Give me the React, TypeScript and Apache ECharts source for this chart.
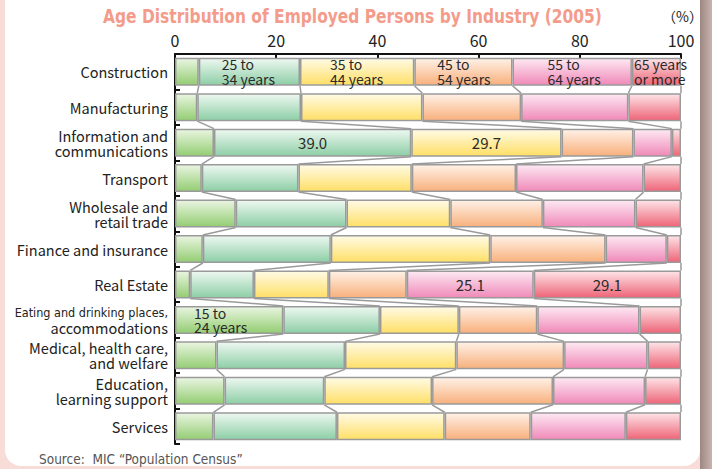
import React, { useEffect, useRef } from "react";
import * as echarts from "echarts";

const categories = [
  "Construction",
  "Manufacturing",
  "Information and\ncommunications",
  "Transport",
  "Wholesale and\nretail trade",
  "Finance and insurance",
  "Real Estate",
  "Eating and drinking places,\naccommodations",
  "Medical, health care,\nand welfare",
  "Education,\nlearning support",
  "Services",
];

const ageGroups = [
  "15 to\n24 years",
  "25 to\n34 years",
  "35 to\n44 years",
  "45 to\n54 years",
  "55 to\n64 years",
  "65 years\nor more",
];

const age15to24 = [4.7, 4.4, 7.7, 5.3, 12.0, 5.5, 3.0, 21.4, 8.2, 9.8, 7.6];
const age25to34 = [20.0, 20.5, 39.0, 19.1, 21.9, 25.3, 12.6, 19.1, 25.4, 19.7, 24.4];
const age35to44 = [22.6, 24.0, 29.7, 22.4, 20.5, 31.5, 14.8, 15.6, 22.0, 21.3, 21.3];
const age45to54 = [19.4, 19.5, 14.2, 20.6, 18.3, 22.8, 15.4, 15.5, 21.3, 23.9, 17.0];
const age55to64 = [23.6, 21.2, 7.6, 25.2, 18.3, 12.1, 25.1, 20.2, 16.5, 18.2, 18.8];
const age65plus = [9.7, 10.4, 1.8, 7.4, 9.0, 2.8, 29.1, 8.2, 6.6, 7.1, 10.9];

const seriesValues = [age15to24, age25to34, age35to44, age45to54, age55to64, age65plus];

// row in which each age group's name is written inside its segment
const ageLabelRow = [7, 0, 0, 0, 0, 0];
// [row, series] cells that show their value
const valueLabelCells = [
  [2, 1],
  [2, 2],
  [6, 4],
  [6, 5],
];

const xTicks = [0, 20, 40, 60, 80, 100];

// styles
const topColors = ["#eaf5e1", "#eef8f1", "#fffbe6", "#fff1e7", "#fde9f3", "#fde4e7"];
const bottomColors = ["#93cd72", "#8dcea6", "#ffdf66", "#f8b07c", "#f089b8", "#ee6477"];
const ageLabelDistance = [19, 23, 30, 23, 35, 2];
const BAR_FRACTION = 0.79;
const LABEL_FONT = "'Noto Sans CJK JP', 'Noto Sans', sans-serif";
const NARROW_FONT = "'Liberation Sans Narrow', 'DejaVu Sans Condensed', sans-serif";

export default function App() {
  const ref = useRef<HTMLDivElement>(null);

  useEffect(() => {
    if (!ref.current) return;
    const chart = echarts.init(ref.current, undefined, { renderer: "svg" });

    const cum = categories.map((_, r) => {
      let s = 0;
      return seriesValues.map((arr) => (s += arr[r]));
    });

    const barSeries = seriesValues.map((arr, si) => ({
      type: "bar",
      name: ageGroups[si].replace("\n", " "),
      stack: "total",
      barWidth: BAR_FRACTION * 100 + "%",
      z: 3,
      itemStyle: {
        borderColor: "#9a9a9a",
        borderWidth: 1.5,
        color: new echarts.graphic.LinearGradient(0, 0, 0, 1, [
          { offset: 0, color: topColors[si] },
          { offset: 1, color: bottomColors[si] },
        ]),
      },
      label: { show: false },
      data: arr.map((v, r) => {
        const item: any = { value: v };
        if (ageLabelRow[si] === r) {
          item.label = {
            show: true,
            position: "insideLeft",
            distance: ageLabelDistance[si],
            formatter: ageGroups[si],
            align: "left",
            fontSize: 14,
            lineHeight: 14.5,
            color: "#2a2a2a",
            fontFamily: LABEL_FONT,
          };
        } else if (valueLabelCells.some(([rr, ss]) => rr === r && ss === si)) {
          item.label = {
            show: true,
            position: "inside",
            formatter: v.toFixed(1),
            fontSize: 15,
            color: "#2a2a2a",
            fontFamily: LABEL_FONT,
          };
        }
        return item;
      }),
    }));

    const connectorSeries = {
      type: "custom",
      z: 1,
      silent: true,
      encode: { x: 0, y: 1 },
      data: categories.slice(0, -1).map((_, r) => [0, r]),
      renderItem: (params: any, api: any) => {
        const r = params.dataIndex;
        const band = api.size([0, 1])[1];
        const h = (band * BAR_FRACTION) / 2;
        const children = cum[r].map((c, k) => {
          const p1 = api.coord([c, r]);
          const p2 = api.coord([cum[r + 1][k], r + 1]);
          return {
            type: "line",
            shape: { x1: p1[0], y1: p1[1] + h, x2: p2[0], y2: p2[1] - h },
            style: { stroke: "#9a9a9a", lineWidth: 1.5 },
          };
        });
        return { type: "group", children };
      },
    };

    chart.setOption({
      animation: false,
      textStyle: { fontFamily: LABEL_FONT },
      grid: { left: 175, right: 31, top: 54, bottom: 25, outerBoundsMode: "none", containLabel: false },
      graphic: [
        {
          type: "text",
          x: 103,
          y: 6,
          scaleX: 0.86,
          style: {
            text: "Age Distribution of Employed Persons by Industry (2005)",
            fill: "#f49c8b",
            font: "bold 20px " + NARROW_FONT,
          },
        },
        {
          type: "text",
          x: 662,
          y: 9,
          style: {
            text: "（%）",
            fill: "#222",
            font: "14px 'Noto Sans CJK JP', sans-serif",
          },
        },
        {
          type: "text",
          x: 39,
          y: 452,
          style: {
            text: "Source:  MIC “Population Census”",
            fill: "#555",
            font: "13.5px " + NARROW_FONT,
          },
        },
      ],
      xAxis: {
        type: "value",
        position: "top",
        min: xTicks[0],
        max: xTicks[xTicks.length - 1],
        interval: xTicks[1] - xTicks[0],
        axisLine: { show: true, lineStyle: { color: "#111", width: 2 } },
        axisTick: { show: true, inside: true, length: 5, lineStyle: { color: "#111", width: 2 } },
        splitLine: { show: false },
        axisLabel: { fontSize: 16, color: "#222", margin: 6, fontFamily: LABEL_FONT },
      },
      yAxis: {
        type: "category",
        inverse: true,
        data: categories,
        axisLine: { show: true, lineStyle: { color: "#111", width: 2 } },
        axisTick: { show: true, inside: true, length: 5, lineStyle: { color: "#111", width: 2 } },
        axisLabel: {
          fontSize: 14.5,
          lineHeight: 15,
          color: "#222",
          margin: 7,
          align: "right",
          fontFamily: LABEL_FONT,
          formatter: (v: string) => {
            if (v.startsWith("Eating")) {
              const [a, b] = v.split("\n");
              return "{n|" + a + "}\n" + b;
            }
            return v;
          },
          rich: {
            n: {
              fontSize: 12.5,
              lineHeight: 15,
              color: "#222",
              fontFamily: NARROW_FONT,
            },
          },
        },
      },
      series: [connectorSeries, ...barSeries],
    });

    return () => chart.dispose();
  }, []);

  return (
    <div
      style={{
        position: "fixed",
        left: 0,
        top: 0,
        width: 712,
        height: 469,
        background: "#f8dcd8",
        overflow: "hidden",
      }}
    >
      <div
        style={{
          position: "absolute",
          left: 700,
          top: 0,
          width: 12,
          height: 469,
          background: "linear-gradient(to right, #9c8782, #c9b3af)",
        }}
      />
      <div
        style={{
          position: "absolute",
          left: 5,
          top: -20,
          width: 695,
          height: 486,
          background: "#ffffff",
          borderRadius: 16,
        }}
      />
      <div ref={ref} style={{ position: "absolute", left: 0, top: 0, width: 712, height: 469 }} />
    </div>
  );
}
